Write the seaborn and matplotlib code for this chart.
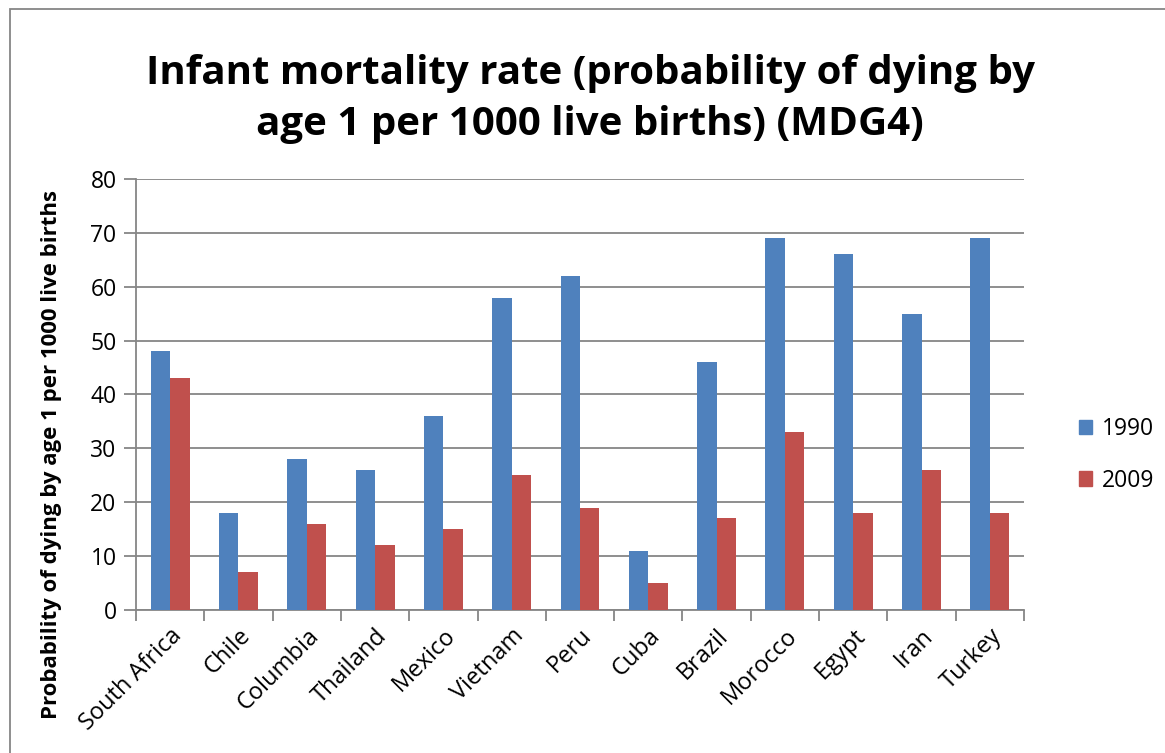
import matplotlib.pyplot as plt
import matplotlib.patches as mpatches
import pandas as pd
import seaborn as sns

countries = ['South Africa', 'Chile', 'Columbia', 'Thailand', 'Mexico', 'Vietnam', 'Peru',
             'Cuba', 'Brazil', 'Morocco', 'Egypt', 'Iran', 'Turkey']
rate_1990 = [48, 18, 28, 26, 36, 58, 62, 11, 46, 69, 66, 55, 69]
rate_2009 = [43, 7, 16, 12, 15, 25, 19, 5, 17, 33, 18, 26, 18]
years = ['1990', '2009']
colors = ['#4F81BD', '#C0504D']

df = pd.DataFrame({
    'country': countries * 2,
    'year': [years[0]] * len(countries) + [years[1]] * len(countries),
    'rate': rate_1990 + rate_2009,
})

sns.set_theme(style="white")
plt.rcParams['font.family'] = ['Open Sans', 'DejaVu Sans']
plt.rcParams['text.color'] = 'black'
plt.rcParams['xtick.color'] = 'black'
plt.rcParams['ytick.color'] = 'black'
plt.rcParams['axes.labelcolor'] = 'black'

fig = plt.figure(figsize=(11.65, 7.53), dpi=100)
ax = fig.add_axes([136 / 1165, 1 - 610 / 753, (1024 - 136) / 1165, (610 - 179) / 753])

sns.barplot(data=df, x='country', y='rate', hue='year', palette=colors,
            width=0.57, gap=0, saturation=1, ax=ax, legend=False, linewidth=0, zorder=3)

ax.set_ylim(0, 80)
ax.set_xlim(-0.5, len(countries) - 0.5)
ax.set_yticks(range(0, 81, 10))
ax.yaxis.grid(True, color='#868686', linewidth=1.3, zorder=0)
ax.set_axisbelow(True)
for s in ['top', 'right']:
    ax.spines[s].set_visible(False)
for s in ['left', 'bottom']:
    ax.spines[s].set_color('#868686')
    ax.spines[s].set_linewidth(1.3)

ax.tick_params(axis='y', which='major', left=True, length=9, width=1.3, color='#868686',
               labelcolor='black', labelsize=16.5, pad=5)
ax.tick_params(axis='x', which='major', bottom=False, labelcolor='black', labelsize=17, pad=4)
ax.set_xticks([i - 0.5 for i in range(len(countries) + 1)], minor=True)
ax.tick_params(axis='x', which='minor', bottom=True, length=8, width=1.3, color='#868686')
ax.set_xticks(range(len(countries)))
ax.set_xticklabels(countries, rotation=45, ha='right', rotation_mode='anchor')

ax.set_xlabel('')
ax.set_ylabel('Probability of dying by age 1 per 1000 live births', fontsize=16,
              fontweight='bold')
ax.yaxis.set_label_coords(-0.083, 0.36)

fig.text(590 / 1165, 1 - 99 / 753,
         'Infant mortality rate (probability of dying by\nage 1 per 1000 live births) (MDG4)',
         ha='center', va='center', fontsize=29, fontweight='bold', linespacing=1.4)

handles = [mpatches.Patch(color=c, label=y) for c, y in zip(colors, years)]
fig.legend(handles=handles, loc='center left', bbox_to_anchor=(1058 / 1165, 1 - 455 / 753),
           frameon=False, fontsize=16.5, handlelength=0.6, handleheight=0.6,
           handletextpad=0.4, labelspacing=1.2)

fig.add_artist(mpatches.Rectangle((10 / 1165, -0.1), 1.2, 1 - 9 / 753 + 0.1,
                                  transform=fig.transFigure, fill=False,
                                  edgecolor='#868686', linewidth=1.3))

plt.savefig('out.png', dpi=100)
